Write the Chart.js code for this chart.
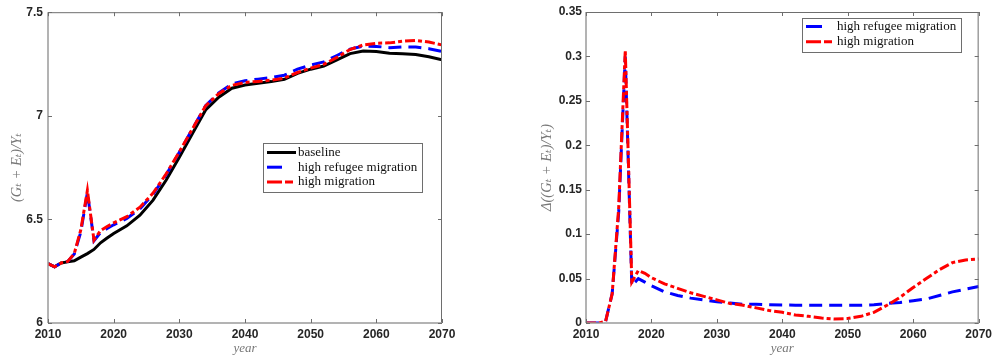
<!DOCTYPE html>
<html><head><meta charset="utf-8">
<script src="https://cdn.jsdelivr.net/npm/chart.js@4"></script>
<style>
html,body{margin:0;padding:0;background:#fff;width:996px;height:360px;overflow:hidden}
.p{position:absolute;top:0}
</style></head><body>
<div class="p" style="left:0"><canvas id="c1" width="460" height="360"></canvas></div>
<div class="p" style="left:530px"><canvas id="c2" width="466" height="360"></canvas></div>
<script>
// ---- data ----
const years = [2010,2011,2012,2013,2014,2015,2016,2017,2018,2019,2020,
  2022,2024,2026,2028,2030,2032,2034,2036,2038,2040,2042,2044,2046,2048,
  2050,2052,2054,2056,2058,2060,2062,2064,2066,2068,2070];

const baselineLevel = [6.287,6.271,6.290,6.295,6.300,6.318,6.335,6.355,6.387,6.410,6.432,
  6.469,6.520,6.593,6.690,6.800,6.915,7.028,7.090,7.133,7.149,7.157,7.165,7.176,7.205,
  7.225,7.240,7.270,7.300,7.313,7.310,7.302,7.300,7.296,7.285,7.270];

const refugeeLevel = [6.287,6.271,6.290,6.297,6.333,6.440,6.630,6.397,6.437,6.456,6.474,
  6.504,6.551,6.621,6.716,6.824,6.937,7.049,7.111,7.154,7.169,7.177,7.185,7.196,7.225,
  7.245,7.260,7.291,7.322,7.336,7.335,7.329,7.333,7.332,7.324,7.311];

const migrationLevel = [6.287,6.271,6.290,6.297,6.335,6.450,6.640,6.400,6.446,6.466,6.483,
  6.513,6.559,6.627,6.720,6.826,6.937,7.048,7.107,7.147,7.161,7.166,7.172,7.182,7.209,
  7.230,7.248,7.282,7.320,7.342,7.350,7.352,7.360,7.364,7.356,7.342];

const refugeeDiff = [0,0,0,0.002,0.033,0.125,0.300,0.042,0.050,0.046,0.042,
  0.035,0.031,0.028,0.026,0.024,0.0225,0.021,0.021,0.0205,0.0203,0.020,0.020,0.020,0.020,
  0.020,0.020,0.0205,0.022,0.023,0.025,0.027,0.031,0.035,0.038,0.041];

const migrationDiff = [0,0,0,0.002,0.033,0.130,0.307,0.046,0.059,0.056,0.051,
  0.044,0.039,0.034,0.030,0.026,0.022,0.020,0.017,0.014,0.012,0.009,0.0075,0.0056,0.0045,
  0.005,0.0075,0.012,0.020,0.029,0.040,0.050,0.060,0.068,0.071,0.072];

const xTicks = [2010,2020,2030,2040,2050,2060,2070];
const yTicksLeft = [6,6.5,7,7.5];
const yTicksRight = [0,0.05,0.1,0.15,0.2,0.25,0.3,0.35];

const labels = {
  baseline: 'baseline',
  refugee: 'high refugee migration',
  migration: 'high migration',
  xTitle: 'year',
  yLeft: '(G\u209C + E\u209C)/Y\u209C',
  yRight: '\u0394((G\u209C + E\u209C)/Y\u209C)'
};

// ---- styles ----
const BLUE_DASH = [13,7];
const RED_DASH = [10,3,4,3];
const tickFont = {family:'"Liberation Sans", Arial, sans-serif', size:12, weight:'bold'};
const titleFont = {family:'"Liberation Serif", "DejaVu Serif", serif', size:13, style:'italic'};
const yTitleFont = {family:'"Liberation Serif", "DejaVu Serif", serif', size:14.5, style:'italic'};
const tickColor = '#262626';
const titleColor = '#777';

function pts(vals){ return years.map((y,i)=>({x:y,y:vals[i]})); }

function ds(label, vals, color, dash){
  return {label, data:pts(vals), borderColor:color, backgroundColor:color,
    borderWidth:3, borderDash:dash||[], pointRadius:0, tension:0, fill:false,
    borderCapStyle:'butt', borderJoinStyle:'miter'};
}

const boxPlugin = {
  id:'axisBox',
  afterDatasetsDraw(chart){
    const {ctx, chartArea:a, scales:{x,y}} = chart;
    ctx.save();
    ctx.setLineDash([]);
    ctx.strokeStyle = '#6e6e6e'; ctx.lineWidth = 1;
    ctx.beginPath();
    ctx.moveTo(a.left, a.top+0.5); ctx.lineTo(a.right, a.top+0.5);
    ctx.moveTo(a.right-0.5, a.top); ctx.lineTo(a.right-0.5, a.bottom);
    ctx.stroke();
    ctx.strokeStyle = '#9a9a9a'; ctx.lineWidth = 1.5;
    ctx.beginPath();
    ctx.moveTo(a.left, a.top); ctx.lineTo(a.left, a.bottom);
    ctx.moveTo(a.left, a.bottom); ctx.lineTo(a.right, a.bottom);
    ctx.stroke();
    ctx.strokeStyle = '#6e6e6e'; ctx.lineWidth = 1;
    ctx.beginPath();
    x.ticks.forEach(t=>{
      const px = Math.round(x.getPixelForValue(t.value))+0.5;
      ctx.moveTo(px, a.bottom); ctx.lineTo(px, a.bottom-4);
      ctx.moveTo(px, a.top); ctx.lineTo(px, a.top+4);
    });
    y.ticks.forEach(t=>{
      const py = Math.round(y.getPixelForValue(t.value))+0.5;
      ctx.moveTo(a.left, py); ctx.lineTo(a.left+4, py);
      ctx.moveTo(a.right, py); ctx.lineTo(a.right-4, py);
    });
    ctx.stroke();
    ctx.restore();
  }
};

function legendPlugin(cfg){
  return {
    id:'boxLegend',
    afterDraw(chart){
      const ctx = chart.ctx;
      ctx.save();
      ctx.fillStyle = '#fff';
      ctx.fillRect(cfg.x, cfg.y, cfg.w, cfg.h);
      ctx.strokeStyle = '#6e6e6e'; ctx.lineWidth = 1; ctx.setLineDash([]);
      ctx.strokeRect(cfg.x+0.5, cfg.y+0.5, cfg.w, cfg.h);
      ctx.font = '13px "Liberation Serif", "Times New Roman", serif';
      ctx.textBaseline = 'middle';
      ctx.fillStyle = '#111';
      cfg.items.forEach((it,i)=>{
        const yy = cfg.y + cfg.first + i*cfg.step;
        ctx.strokeStyle = it.color; ctx.lineWidth = 3; ctx.lineCap='butt';
        ctx.setLineDash(it.dash);
        ctx.beginPath(); ctx.moveTo(cfg.x+cfg.sx, yy); ctx.lineTo(cfg.x+cfg.sx+it.len, yy); ctx.stroke();
        ctx.setLineDash([]);
        ctx.fillText(it.label, cfg.x+cfg.tx, yy);
      });
      ctx.restore();
    }
  };
}

function fmt(v){ return String(+Number(v).toFixed(3)); }

function makeOptions(yMin, yMax, yStep, yTitle, yWidth, padRight, tickPad){
  return {
    responsive:false, animation:false, devicePixelRatio:1,
    layout:{padding:{left:0, right:padRight, top:12, bottom:0}},
    plugins:{legend:{display:false}, tooltip:{enabled:false}},
    scales:{
      x:{type:'linear', min:2010, max:2070,
        afterBuildTicks:(s)=>{ s.ticks = xTicks.map(v=>({value:v})); },
        ticks:{font:tickFont, color:tickColor, padding:4, maxRotation:0, callback:(v)=>String(v)},
        grid:{display:false, drawTicks:false}, border:{display:false},
        title:{display:true, text:labels.xTitle, font:titleFont, color:titleColor, padding:{top:0,bottom:4}},
        afterFit:(s)=>{ s.height = 37; }
      },
      y:{type:'linear', min:yMin, max:yMax,
        afterBuildTicks:(s)=>{ s.ticks = yStep.map(v=>({value:v})); },
        ticks:{font:tickFont, color:tickColor, padding:tickPad, callback:(v)=>fmt(v)},
        grid:{display:false, drawTicks:false}, border:{display:false},
        title:{display:true, text:yTitle, font:yTitleFont, color:titleColor, padding:{top:8,bottom:0}},
        afterFit:(s)=>{ s.width = yWidth; }
      }
    }
  };
}

new Chart(document.getElementById('c1'), {
  type:'line',
  data:{datasets:[
    ds(labels.migration, migrationLevel, '#ff0000', RED_DASH),
    ds(labels.refugee, refugeeLevel, '#0000ff', BLUE_DASH),
    ds(labels.baseline, baselineLevel, '#000000')
  ]},
  options: makeOptions(6, 7.5, yTicksLeft, labels.yLeft, 48, 18, 5),
  plugins:[boxPlugin, legendPlugin({x:263, y:143, w:159, h:49, sx:4, tx:35, first:9.5, step:14.7,
    items:[
      {label:labels.baseline, color:'#000', dash:[], len:29},
      {label:labels.refugee, color:'#0000ff', dash:[], len:15},
      {label:labels.migration, color:'#ff0000', dash:[15,3,8,3], len:26}
    ]})]
});

new Chart(document.getElementById('c2'), {
  type:'line',
  data:{datasets:[
    ds(labels.migration, migrationDiff, '#ff0000', RED_DASH),
    ds(labels.refugee, refugeeDiff, '#0000ff', BLUE_DASH)
  ]},
  options: makeOptions(0, 0.35, yTicksRight, labels.yRight, 56, 16, 4),
  plugins:[boxPlugin, legendPlugin({x:272, y:18, w:159, h:34, sx:4, tx:35, first:8.5, step:15.3,
    items:[
      {label:labels.refugee, color:'#0000ff', dash:[], len:16},
      {label:labels.migration, color:'#ff0000', dash:[15,3,8,3], len:26}
    ]})]
});
</script>
</body></html>
